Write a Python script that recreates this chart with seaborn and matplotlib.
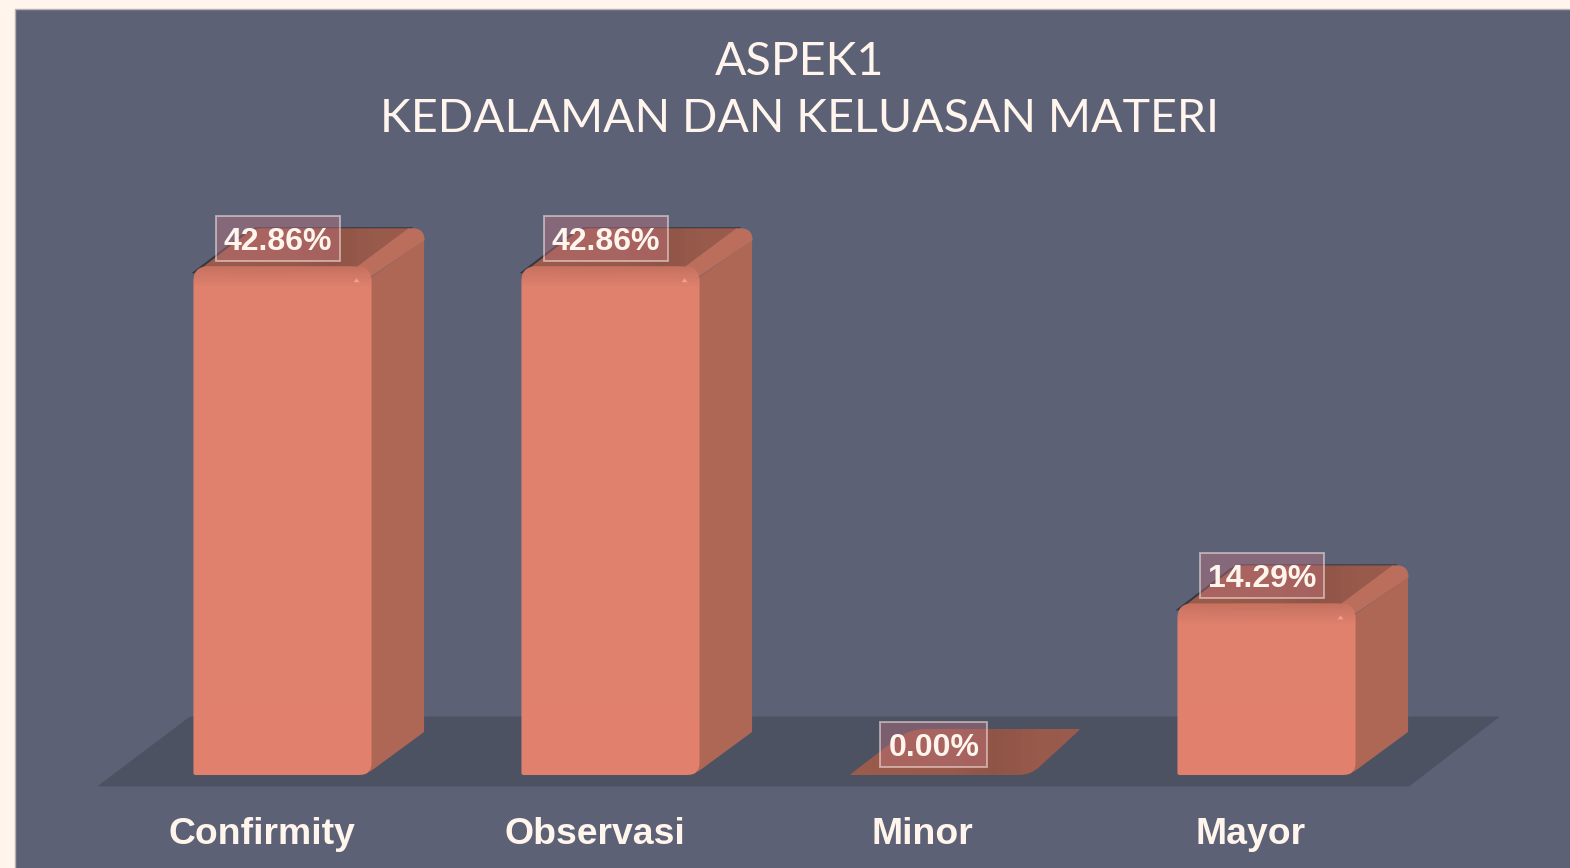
import numpy as np
import pandas as pd
import matplotlib
matplotlib.use("Agg")
import matplotlib.pyplot as plt
import seaborn as sns
from matplotlib.path import Path
from matplotlib.patches import PathPatch, Rectangle
from matplotlib.transforms import IdentityTransform, ScaledTranslation

categories = ["Confirmity", "Observasi", "Minor", "Mayor"]
values = [42.86, 42.86, 0.00, 14.29]
value_labels = ["42.86%", "42.86%", "0.00%", "14.29%"]
title = "ASPEK1\nKEDALAMAN DAN KELUASAN MATERI"

W, H = 1570, 868
PAGE = "#FFF5EC"
PANEL = "#5C6175"
FLOOR = "#4D5263"
FRONT = "#E4826E"
SIDE = "#AF6854"
TOP = "#9A5B4C"
RIDGE = "#BB6E5C"
TEXT = "#FFF5EC"

base_px = 775      # bottom of the bars, px from the top
foot_px = 3        # bars start a little below the zero line
px_per_unit = 11.8
step_px = 328
first_px = 282.5


def rounded(points, radii):
    # closed path through points (px, y up) with rounded corners
    pts = np.array(points, dtype=float)
    n = len(pts)
    verts, codes = [], []
    for i in range(n):
        p, prev, nxt = pts[i], pts[i - 1], pts[(i + 1) % n]
        r = radii[i]
        a = p + (prev - p) / np.linalg.norm(prev - p) * r
        b = p + (nxt - p) / np.linalg.norm(nxt - p) * r
        verts.append(a)
        codes.append(Path.MOVETO if i == 0 else Path.LINETO)
        verts += [p, b]
        codes += [Path.CURVE3, Path.CURVE3]
    verts.append(verts[0])
    codes.append(Path.CLOSEPOLY)
    return Path(np.array(verts), codes)


def shape(ax, points, radii, color, z, alpha=1.0):
    p = PathPatch(rounded(points, radii), fc=color, ec="none", alpha=alpha,
                  transform=IdentityTransform(), zorder=z, clip_on=False)
    ax.add_patch(p)
    return p


fig = plt.figure(figsize=(W / 100, H / 100), dpi=100, facecolor=PAGE)
fig.add_artist(Rectangle((15, -5), W, H - 9 + 5, transform=IdentityTransform(),
                         fc=PANEL, ec="#B4B2B0", lw=1, zorder=-1))

ax = fig.add_axes([0, (H - base_px) / H, 1, base_px / H])
ax.set_facecolor("none")

df = pd.DataFrame({"category": categories, "value": values})
sns.barplot(data=df, x="category", y="value", color=FRONT, saturation=1, width=0.543, ax=ax, zorder=3)
bars = list(ax.patches)

low = -foot_px / px_per_unit
high = (base_px - foot_px) / px_per_unit
xlim = (-first_px / step_px, (W - first_px) / step_px)
ax.set_xlim(xlim)
ax.set_ylim(low, high)
sns.despine(ax=ax, left=True, bottom=True)
ax.set_yticks([])
ax.set_xlabel("")
ax.set_ylabel("")

# floor under the bars
b = H - 786.5
t = H - 716.5
shape(ax, [(97, b), (1409, b), (1500, t), (190, t)], [0, 0, 0, 0], FLOOR, 1)

grad = np.zeros((24, 2, 4))
grad[:, :, 3] = np.linspace(0.12, 0, 24)[:, None]
top_shade = np.zeros((2, 40, 4))
top_shade[:, :, 3] = np.interp(np.linspace(0, 1, 40), [0, 0.45, 0.65, 0.85, 1], [0, 0.02, 0.07, 0.01, 0])

renderer = fig.canvas.get_renderer()

for bar, val, txt in zip(bars, values, value_labels):
    x_left = bar.get_x()
    x_right = x_left + bar.get_width()
    x0, y0 = ax.transData.transform((x_left, low))
    x1, y1 = ax.transData.transform((x_right, val))

    if val > 0:
        # right side, top face and ridge of the box
        shape(ax, [(x1 - 2, y0 + 3), (x1 + 52.5, y0 + 43), (x1 + 52.5, y1 + 26), (x1 - 2, y1 - 12)],
              [0, 1, 0, 0], SIDE, 2, alpha=0.99)
        shape(ax, [(x0 - 2, y1 - 7), (x0 + 58, y1 + 39), (x1 + 42, y1 + 39), (x1, y1 - 5)],
              [0, 8, 0, 0], "#35363F", 1.5)
        top_path = shape(ax, [(x0, y1 - 8), (x0 + 60, y1 + 38), (x1 + 38, y1 + 38), (x1 - 10, y1)],
                         [0, 8, 0, 0], TOP, 2)
        shade = ax.imshow(top_shade, aspect="auto", zorder=2.1,
                          extent=(x_left, x_right + 40 / step_px, val - 10 / px_per_unit, val + 40 / px_per_unit))
        shade.set_clip_path(top_path.get_path(), IdentityTransform())
        shape(ax, [(x1 - 14, y1), (x1 + 37, y1 + 38), (x1 + 53, y1 + 38), (x1 + 53, y1 + 26), (x1, y1 - 10)],
              [0, 0, 12, 0, 0], RIDGE, 2.2)

        # rounded front face, seaborn's bar clipped to it
        bar.set_y(low)
        bar.set_height(val - low)
        front = rounded([(x0, y0), (x1, y0), (x1, y1), (x0, y1)], [2, 12, 15, 15])
        bar.set_clip_path(front, IdentityTransform())
        bar.set_alpha(0.98)

        # darker band at the top of the front face, small glint at its corner
        im = ax.imshow(grad, extent=(x_left, x_right, val - 22 / px_per_unit, val),
                       aspect="auto", zorder=3.5, origin="upper")
        im.set_clip_path(front, IdentityTransform())
        shape(ax, [(x1 - 18, y1 - 16), (x1 - 12, y1 - 16), (x1 - 15, y1 - 12)], [0, 0, 0], "#F0A08E", 4)
    else:
        top_path = shape(ax, [(x0, y0), (x1 + 3, y0), (x1 + 53, y0 + 46), (x0 + 60, y0 + 46)],
                         [2, 12, 2, 16], TOP, 2)
        shade = ax.imshow(top_shade, aspect="auto", zorder=2.1,
                          extent=(x_left, x_right + 50 / step_px, low, low + 46 / px_per_unit))
        shade.set_clip_path(top_path.get_path(), IdentityTransform())

    # value label with its translucent box
    cx = (x_left + x_right) / 2
    ann = ax.annotate(txt, xy=(cx, val), xytext=(-4.5 * 0.72, 28 * 0.72), textcoords="offset points",
                      ha="center", va="center_baseline", fontsize=23, fontweight="bold", color=TEXT,
                      fontfamily="Liberation Sans", zorder=6, annotation_clip=False)
    ext = ann.get_window_extent(renderer)
    mid_x, mid_y = ax.transData.transform((cx, val))
    mid_x -= 4.5
    mid_y += 28
    half_w = ext.width / 2 + 8
    ax.add_patch(Rectangle((mid_x - half_w, mid_y - 22.5), 2 * half_w, 45, transform=IdentityTransform(),
                           fc=(0.77, 0.46, 0.51, 0.4), ec=(1, 0.96, 0.93, 0.5), lw=1.4,
                           zorder=5, clip_on=False))

ax.set_xlim(xlim)
ax.set_ylim(low, high)
ax.set_aspect("auto")

# category labels sit left of their bars
ax.tick_params(axis="x", length=0, pad=30.5, labelsize=26.9, labelcolor=TEXT)
label_shift = [-20.5, -16, -16.5, -16]
for lab, s in zip(ax.get_xticklabels(), label_shift):
    lab.set_fontfamily("Liberation Sans")
    lab.set_fontweight("bold")
    lab.set_transform(lab.get_transform() + ScaledTranslation(s / 100, 0, fig.dpi_scale_trans))

fig.text(800 / W, 1 - 41 / H, title, ha="center", va="top", color=TEXT, fontsize=33.5,
         fontfamily="Lato", linespacing=1.43)

fig.savefig("out.png", dpi=100, facecolor=PAGE)
